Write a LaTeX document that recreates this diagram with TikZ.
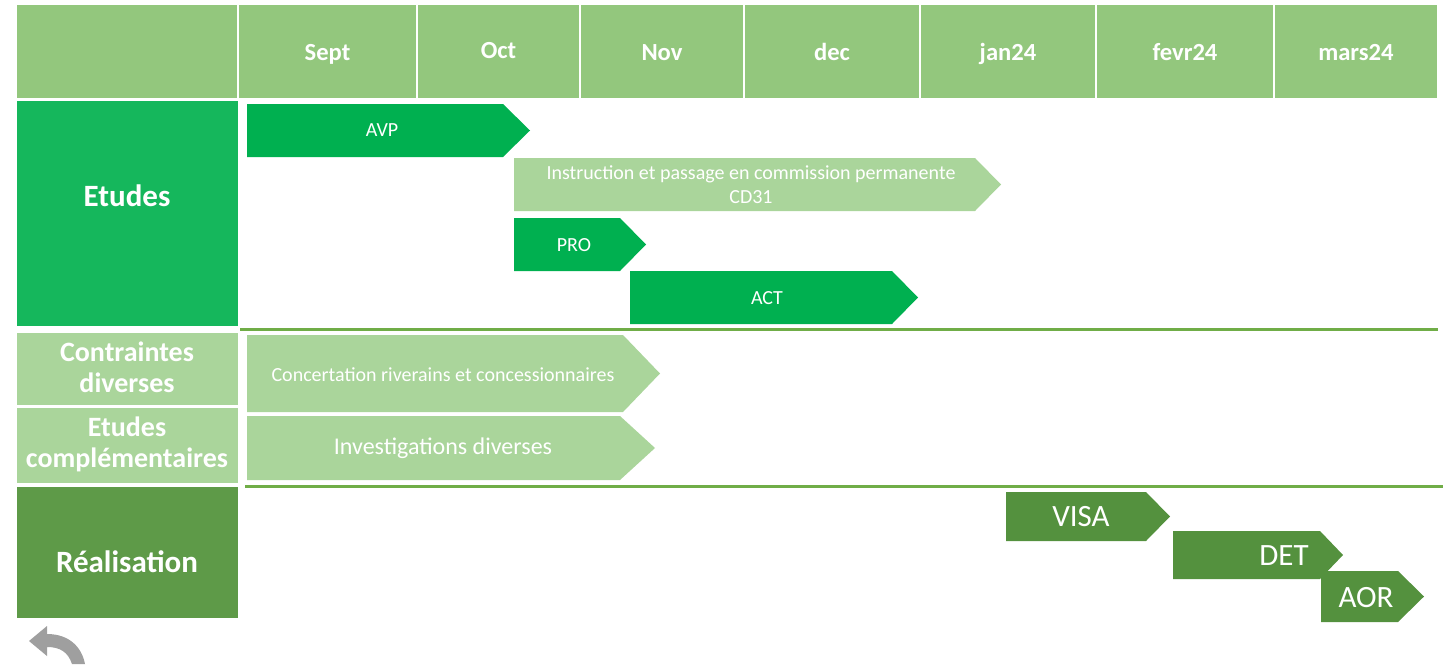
\documentclass[tikz,border=0pt]{standalone}
\usepackage{fontspec}
\setmainfont{Carlito}
\definecolor{hdrgreen}{RGB}{147,199,125}
\definecolor{etugreen}{RGB}{21,183,92}
\definecolor{barmid}{RGB}{0,176,80}
\definecolor{barlight}{RGB}{170,213,155}
\definecolor{realgreen}{RGB}{94,154,72}
\definecolor{bardark}{RGB}{84,145,62}
\definecolor{sepgreen}{RGB}{112,173,71}
\tikzset{
  month/.style={text=white,anchor=base,font=\fontsize{12.3}{14}\selectfont\bfseries},
  rowlabel/.style={text=white,align=center,font=\fontsize{14}{15.5}\selectfont\bfseries},
  bartext/.style={text=white,align=center,font=\fontsize{10}{12}\selectfont}
}
\begin{document}
\begin{tikzpicture}[x=0.5pt,y=-0.5pt]
            \useasboundingbox (0,0) rectangle (1450,664);
            % header row
            \fill[hdrgreen] (17,5) rectangle (237,98);
            \fill[hdrgreen] (239,5) rectangle (416,98);
            \fill[hdrgreen] (418,5) rectangle (579,98);
            \fill[hdrgreen] (581,5) rectangle (743,98);
            \fill[hdrgreen] (745,5) rectangle (919,98);
            \fill[hdrgreen] (921,5) rectangle (1095,98);
            \fill[hdrgreen] (1097,5) rectangle (1273,98);
            \fill[hdrgreen] (1275,5) rectangle (1437,98);
            \node[month] (sept) at (327.5,60) {Sept};
            \node[month] (oct) at (498.5,58) {Oct};
            \node[month] (nov) at (662,60) {Nov};
            \node[month] (dec) at (832,60) {dec};
            \node[month] (jan) at (1008,60) {jan24};
            \node[month] (fev) at (1185,60) {fevr24};
            \node[month] (mar) at (1356,60) {mars24};
            % row labels
            \fill[etugreen] (17,101) rectangle (238,326);
            \fill[barlight] (17,333) rectangle (238,405);
            \fill[barlight] (17,408) rectangle (238,483);
            \fill[realgreen] (17,487) rectangle (238,618);
            \node[rowlabel,font=\fontsize{15.5}{17}\selectfont\bfseries] (etudes) at (127,196) {Etudes};
            \node[rowlabel] (contraintes) at (127,367) {Contraintes\\diverses};
            \node[rowlabel] (complem) at (127,444) {Etudes\\complémentaires};
            \node[rowlabel,font=\fontsize{15.5}{17}\selectfont\bfseries] (realisation) at (127,562) {Réalisation};
            % separators
            \draw[sepgreen,line width=1.5pt] (240,329) -- (1438,329);
            \draw[sepgreen,line width=1.5pt] (245,486) -- (1443,486);
            % etudes
            \fill[barmid] (247,104) -- (503,104) -- (530,130.5) -- (503,157) -- (247,157) -- cycle;
            \node[bartext] (avp) at (382,130) {AVP};
            \fill[barlight] (514,158) -- (975,158) -- (1001,184.5) -- (975,211) -- (514,211) -- cycle;
            \node[bartext] (instr) at (751,185) {Instruction et passage en commission permanente\\CD31};
            \fill[barmid] (514,218) -- (620,218) -- (646,244.5) -- (620,271) -- (514,271) -- cycle;
            \node[bartext] (pro) at (574,245) {PRO};
            \fill[barmid] (630,271) -- (892,271) -- (918,297.5) -- (892,324) -- (630,324) -- cycle;
            \node[bartext] (act) at (767,298) {ACT};
            % contraintes et etudes complementaires
            \fill[barlight] (247,335) -- (623,335) -- (660,373.5) -- (623,412) -- (247,412) -- cycle;
            \node[bartext] (concert) at (443,375) {Concertation riverains et concessionnaires};
            \fill[barlight] (247,416) -- (620,416) -- (655,448) -- (620,480) -- (247,480) -- cycle;
            \node[bartext,font=\fontsize{12}{14}\selectfont] (invest) at (443,448) {Investigations diverses};
            % realisation
            \fill[bardark] (1006,492) -- (1146,492) -- (1170,516.5) -- (1146,541) -- (1006,541) -- cycle;
            \node[bartext,font=\fontsize{15.5}{18}\selectfont] (visa) at (1081,517) {VISA};
            \fill[bardark] (1173,531) -- (1320,531) -- (1343,555) -- (1320,579) -- (1173,579) -- cycle;
            \node[bartext,font=\fontsize{15.5}{18}\selectfont] (det) at (1284,556) {DET};
            \fill[bardark] (1321,571) -- (1398,571) -- (1424,596.5) -- (1398,622) -- (1321,622) -- cycle;
            \node[bartext,font=\fontsize{15.5}{18}\selectfont] (aor) at (1366,598) {AOR};
            % return icon
            \fill[gray!75] (29,641) -- (47,626) -- (47,634) .. controls (70,634) and (82,648) .. (85,664) -- (72,664) .. controls (68,652) and (60,647) .. (47,647) -- (47,656) -- cycle;
        \end{tikzpicture}
\end{document}
